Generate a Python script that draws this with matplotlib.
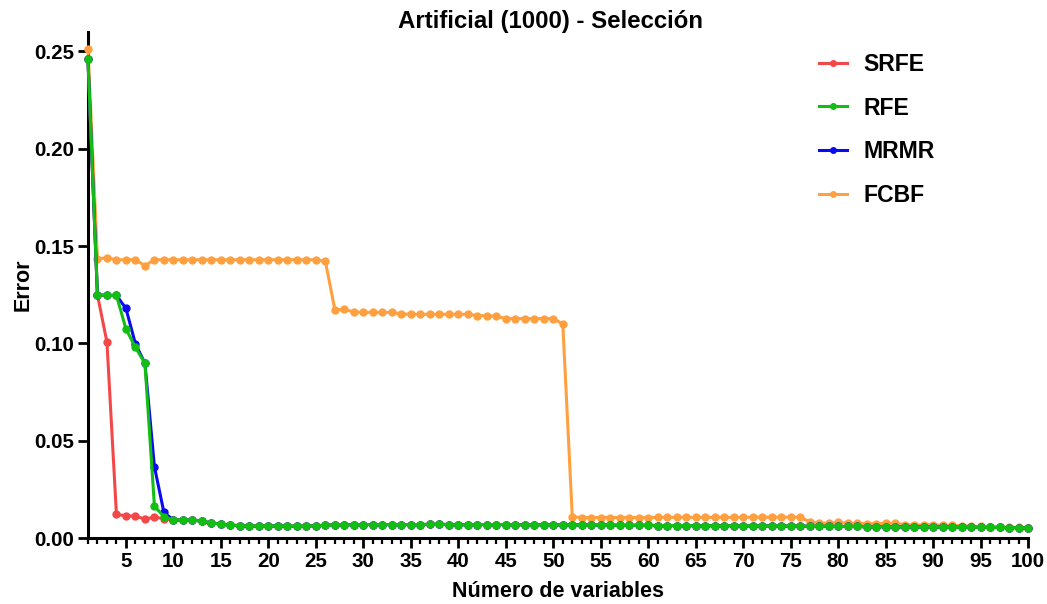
"""Error vs number of selected variables on the Artificial (1000) dataset,
comparing four feature selection methods (SRFE, RFE, MRMR, FCBF)."""

import matplotlib
matplotlib.use("Agg")
import matplotlib.pyplot as plt
from matplotlib.ticker import MultipleLocator

plt.rcParams["font.family"] = ["Liberation Sans", "DejaVu Sans"]
plt.rcParams["font.weight"] = "bold"

# values, one per number of variables (1..100)
n_vars = list(range(1, 101))

srfe = [
    0.2460, 0.1250, 0.1007, 0.0122, 0.0115, 0.0113, 0.0098, 0.0108, 0.0100, 0.0093,
    0.0093, 0.0093, 0.0088, 0.0078, 0.0073, 0.0066, 0.0065, 0.0062, 0.0062, 0.0062,
    0.0063, 0.0062, 0.0061, 0.0062, 0.0064, 0.0066, 0.0069, 0.0069, 0.0069, 0.0070,
    0.0070, 0.0070, 0.0070, 0.0070, 0.0070, 0.0070, 0.0071, 0.0071, 0.0070, 0.0069,
    0.0069, 0.0070, 0.0070, 0.0070, 0.0070, 0.0069, 0.0069, 0.0069, 0.0068, 0.0068,
    0.0068, 0.0068, 0.0068, 0.0067, 0.0067, 0.0067, 0.0066, 0.0066, 0.0066, 0.0066,
    0.0065, 0.0065, 0.0065, 0.0065, 0.0064, 0.0064, 0.0064, 0.0064, 0.0064, 0.0063,
    0.0063, 0.0063, 0.0063, 0.0062, 0.0062, 0.0062, 0.0061, 0.0061, 0.0061, 0.0060,
    0.0060, 0.0060, 0.0059, 0.0059, 0.0059, 0.0058, 0.0058, 0.0058, 0.0057, 0.0057,
    0.0057, 0.0056, 0.0056, 0.0056, 0.0055, 0.0055, 0.0055, 0.0054, 0.0054, 0.0053,
]

rfe = [
    0.2462, 0.1250, 0.1247, 0.1247, 0.1075, 0.0980, 0.0898, 0.0165, 0.0110, 0.0093,
    0.0094, 0.0094, 0.0087, 0.0078, 0.0073, 0.0066, 0.0065, 0.0062, 0.0062, 0.0062,
    0.0063, 0.0062, 0.0061, 0.0062, 0.0064, 0.0066, 0.0069, 0.0069, 0.0069, 0.0070,
    0.0070, 0.0070, 0.0070, 0.0070, 0.0070, 0.0070, 0.0071, 0.0071, 0.0070, 0.0069,
    0.0069, 0.0070, 0.0070, 0.0070, 0.0070, 0.0069, 0.0069, 0.0069, 0.0068, 0.0068,
    0.0068, 0.0068, 0.0068, 0.0067, 0.0067, 0.0067, 0.0066, 0.0066, 0.0066, 0.0066,
    0.0065, 0.0065, 0.0065, 0.0065, 0.0064, 0.0064, 0.0064, 0.0064, 0.0064, 0.0063,
    0.0063, 0.0063, 0.0063, 0.0062, 0.0062, 0.0062, 0.0061, 0.0061, 0.0061, 0.0060,
    0.0060, 0.0060, 0.0059, 0.0059, 0.0059, 0.0058, 0.0058, 0.0058, 0.0057, 0.0057,
    0.0057, 0.0056, 0.0056, 0.0056, 0.0055, 0.0055, 0.0055, 0.0054, 0.0054, 0.0053,
]

mrmr = [
    0.2460, 0.1250, 0.1247, 0.1247, 0.1180, 0.0998, 0.0898, 0.0367, 0.0132, 0.0093,
    0.0094, 0.0094, 0.0087, 0.0078, 0.0073, 0.0066, 0.0065, 0.0062, 0.0062, 0.0062,
    0.0063, 0.0062, 0.0061, 0.0062, 0.0064, 0.0066, 0.0069, 0.0069, 0.0069, 0.0070,
    0.0070, 0.0070, 0.0070, 0.0070, 0.0070, 0.0070, 0.0071, 0.0071, 0.0070, 0.0069,
    0.0069, 0.0070, 0.0070, 0.0070, 0.0070, 0.0069, 0.0069, 0.0069, 0.0068, 0.0068,
    0.0068, 0.0068, 0.0068, 0.0067, 0.0067, 0.0067, 0.0066, 0.0066, 0.0066, 0.0066,
    0.0065, 0.0065, 0.0065, 0.0065, 0.0064, 0.0064, 0.0064, 0.0064, 0.0064, 0.0063,
    0.0063, 0.0063, 0.0063, 0.0062, 0.0062, 0.0062, 0.0061, 0.0061, 0.0061, 0.0060,
    0.0060, 0.0060, 0.0059, 0.0059, 0.0059, 0.0058, 0.0058, 0.0058, 0.0057, 0.0057,
    0.0057, 0.0056, 0.0056, 0.0056, 0.0055, 0.0055, 0.0055, 0.0054, 0.0054, 0.0053,
]

fcbf = [
    0.2515, 0.1435, 0.1440, 0.1430, 0.1430, 0.1430, 0.1400, 0.1430, 0.1430, 0.1430,
    0.1430, 0.1430, 0.1430, 0.1430, 0.1430, 0.1430, 0.1430, 0.1430, 0.1430, 0.1430,
    0.1430, 0.1430, 0.1430, 0.1430, 0.1430, 0.1422, 0.1173, 0.1175, 0.1162, 0.1160,
    0.1160, 0.1160, 0.1160, 0.1152, 0.1150, 0.1150, 0.1150, 0.1150, 0.1150, 0.1150,
    0.1150, 0.1143, 0.1143, 0.1140, 0.1128, 0.1128, 0.1128, 0.1128, 0.1128, 0.1128,
    0.1100, 0.0110, 0.0106, 0.0106, 0.0106, 0.0106, 0.0106, 0.0106, 0.0106, 0.0106,
    0.0107, 0.0107, 0.0107, 0.0107, 0.0107, 0.0107, 0.0107, 0.0107, 0.0107, 0.0107,
    0.0108, 0.0108, 0.0108, 0.0108, 0.0108, 0.0108, 0.0084, 0.0077, 0.0077, 0.0081,
    0.0077, 0.0076, 0.0075, 0.0075, 0.0076, 0.0076, 0.0070, 0.0068, 0.0069, 0.0070,
    0.0066, 0.0067, 0.0063, 0.0062, 0.0060, 0.0059, 0.0058, 0.0056, 0.0055, 0.0054,
]

series = [
    ("SRFE", srfe, "#F34848"),
    ("RFE", rfe, "#13BE13"),
    ("MRMR", mrmr, "#0A0AF0"),
    ("FCBF", fcbf, "#FFA040"),
]
draw_order = ["FCBF", "SRFE", "MRMR", "RFE"]


def main():
    fig = plt.figure(figsize=(10.47, 6.04), dpi=100)
    ax = fig.add_axes([0.084, 0.109, 0.898, 0.838])

    handles = {}
    for name in draw_order:
        label, values, color = next(s for s in series if s[0] == name)
        (line,) = ax.plot(n_vars, values, color=color, lw=2.2, marker="o",
                          markersize=5, label=label, clip_on=False, zorder=3)
        handles[label] = line

    ax.set_xlim(1, 100)
    ax.set_ylim(0, 0.26)
    ax.xaxis.set_minor_locator(MultipleLocator(1))
    ax.set_xticks(list(range(5, 101, 5)))
    ax.set_yticks([0.0, 0.05, 0.10, 0.15, 0.20, 0.25])
    ax.set_yticklabels(["0.00", "0.05", "0.10", "0.15", "0.20", "0.25"])

    for side in ("top", "right"):
        ax.spines[side].set_visible(False)
    for side in ("left", "bottom"):
        ax.spines[side].set_linewidth(2.2)

    ax.tick_params(which="major", length=7, width=2.0, labelsize=14.8, pad=3)
    ax.tick_params(axis="x", which="minor", length=4, width=1.6)
    for lbl in ax.get_xticklabels() + ax.get_yticklabels():
        lbl.set_fontweight("bold")

    ax.set_xlabel("Número de variables", fontsize=15.5, fontweight="bold", labelpad=7)
    ax.set_ylabel("Error", fontsize=15.5, fontweight="bold", labelpad=0)
    fig.text(0.526, 0.964, "Artificial (1000) - Selección", ha="center", va="center",
             fontsize=17.3, fontweight="bold")

    order = ["SRFE", "RFE", "MRMR", "FCBF"]
    ax.legend([handles[k] for k in order], order, loc="upper left",
              bbox_to_anchor=(0.755, 1.0), frameon=False, handlelength=1.25,
              handletextpad=0.7, labelspacing=0.9, markerscale=0.8,
              prop={"size": 16.6, "weight": "bold"})

    fig.savefig("out.png", dpi=100)
    plt.close(fig)


if __name__ == "__main__":
    main()
